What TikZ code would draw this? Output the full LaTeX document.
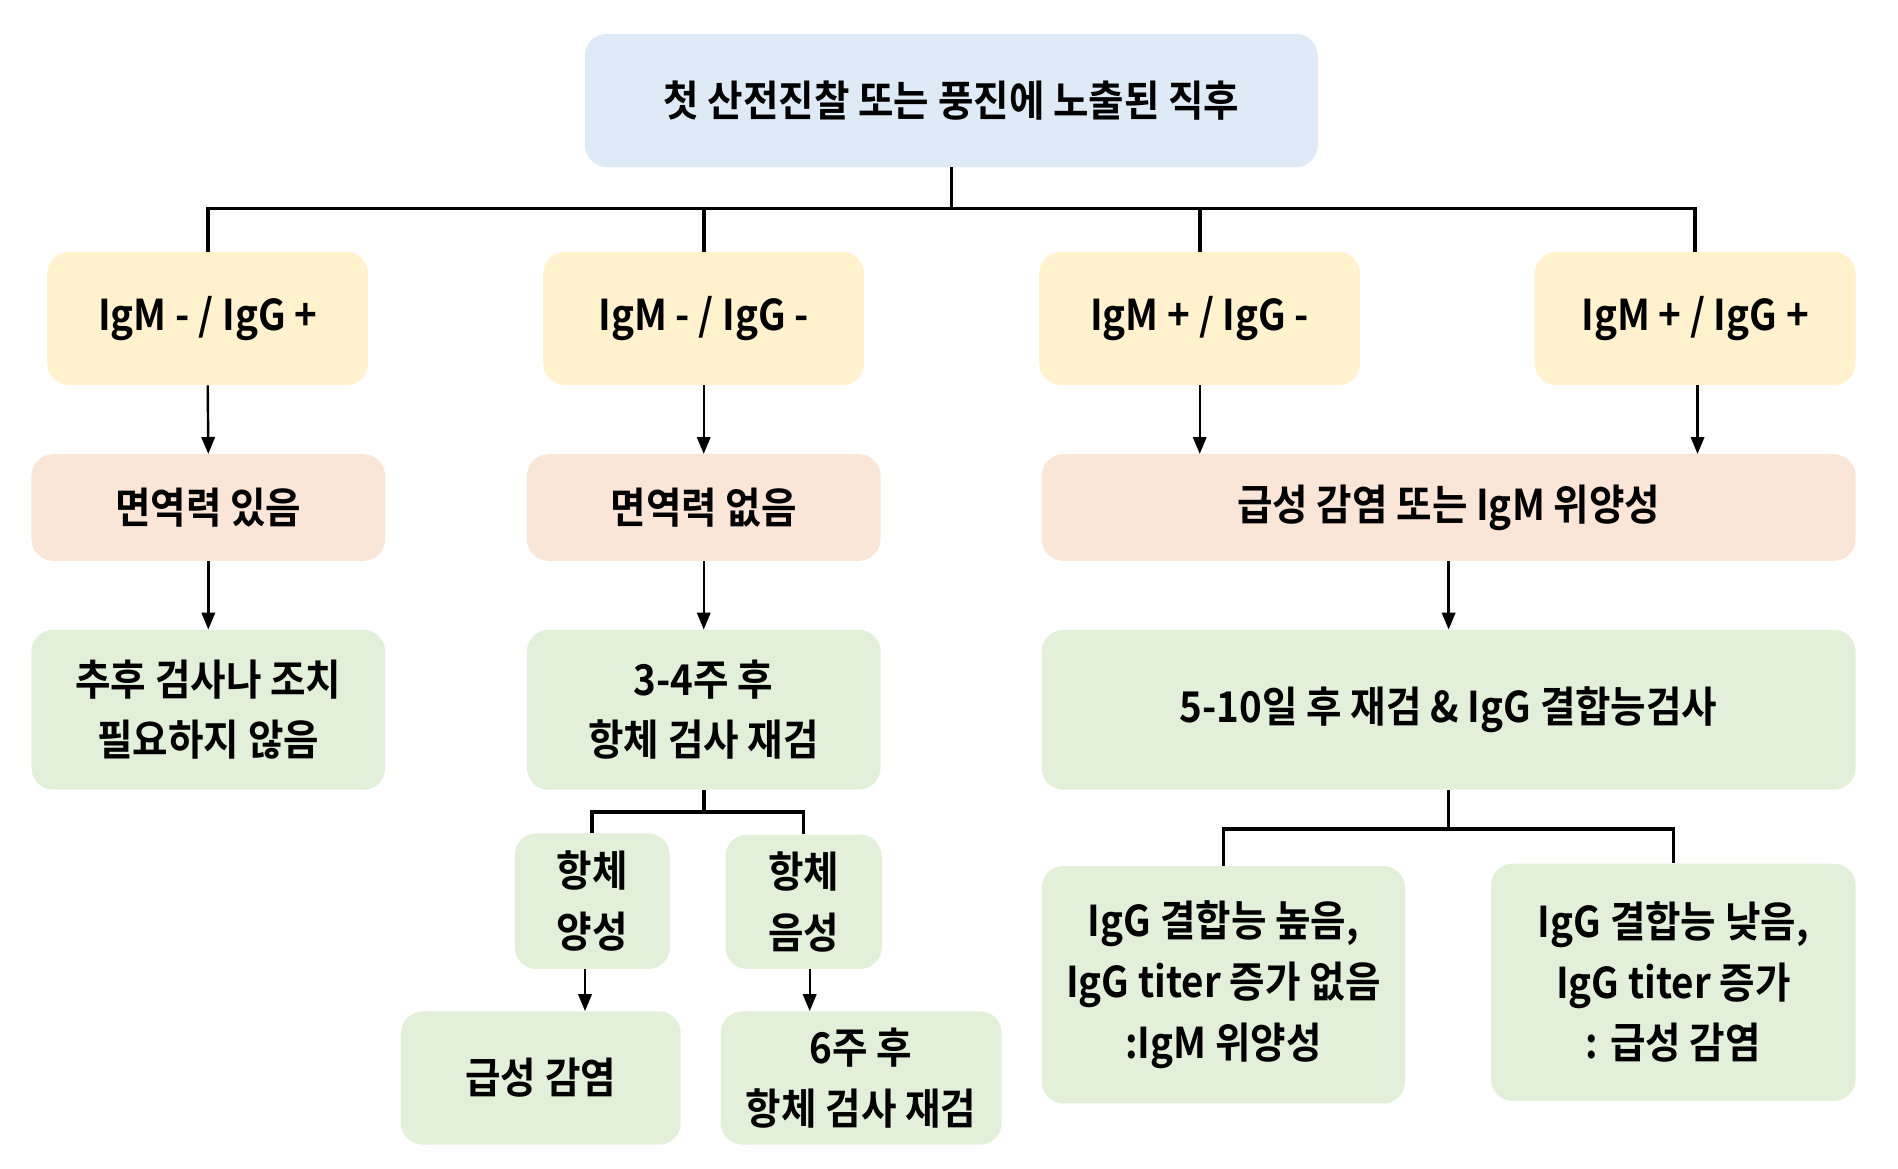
\documentclass[tikz,border=0pt]{standalone}
\usepackage{fontspec}
\newfontfamily\krfont{Noto Sans CJK KR Bold}[FakeStretch=0.91]
\usetikzlibrary{arrows.meta}
\definecolor{topblue}{HTML}{DEEBF7}
\definecolor{igyellow}{HTML}{FFF2CC}
\definecolor{respeach}{HTML}{FBE5D6}
\definecolor{stepgreen}{HTML}{E2F0D9}
\tikzset{
  box/.style={rounded corners=18pt, inner sep=0pt, align=center,
    font=\krfont\fontsize{35}{50}\selectfont},
  bus/.style={line width=3pt, line join=miter},
  arr/.style={line width=2pt, -{Triangle[length=14pt,width=11pt]}}
}
\begin{document}
\begin{tikzpicture}[x=1pt, y=-1pt]
	\useasboundingbox (0,0) rectangle (1567,965);
	% top
	\node[box, fill=topblue, minimum width=605, minimum height=110] (top) at (785.5,83) {첫 산전진찰 또는 풍진에 노출된 직후};
	% antibody results
	\node[box, fill=igyellow, minimum width=265, minimum height=110] (m1) at (171.5,263) {IgM - / IgG +};
	\node[box, fill=igyellow, minimum width=265, minimum height=110] (m2) at (581,263) {IgM - / IgG -};
	\node[box, fill=igyellow, minimum width=265, minimum height=110] (m3) at (990.5,263) {IgM + / IgG -};
	\node[box, fill=igyellow, minimum width=265, minimum height=110] (m4) at (1399.5,263) {IgM + / IgG +};
	\foreach \n in {m1,m2,m3,m4}
		\draw[bus] (top.south) -- ++(0,34) -| (\n.north);
	% meaning
	\node[box, fill=respeach, minimum width=292, minimum height=88] (immune) at (172,419) {면역력 있음};
	\node[box, fill=respeach, minimum width=292, minimum height=88] (noimmune) at (581,419) {면역력 없음};
	\node[box, fill=respeach, minimum width=672, minimum height=88] (acute) at (1196,419) {급성 감염 또는 IgM 위양성};
	\draw[arr] (m1.south) -- (immune.north);
	\draw[arr] (m2.south) -- (noimmune.north);
	\draw[arr] (m3.south) -- (m3.south |- acute.north);
	\draw[arr] ([xshift=2pt]m4.south) -- ([xshift=2pt]m4.south |- acute.north);
	% next step
	\node[box, fill=stepgreen, minimum width=292, minimum height=132] (nofollow) at (172,586) {추후 검사나 조치\\필요하지 않음};
	\node[box, fill=stepgreen, minimum width=292, minimum height=132] (retest) at (581,586) {3-4주 후\\항체 검사 재검};
	\node[box, fill=stepgreen, minimum width=672, minimum height=132] (avid) at (1196,586) {5-10일 후 재검 \& IgG 결합능검사};
	\draw[arr] (immune.south) -- (nofollow.north);
	\draw[arr] (noimmune.south) -- (retest.north);
	\draw[arr] (acute.south) -- (avid.north);
	% retest result
	\node[box, fill=stepgreen, minimum width=128, minimum height=112] (pos) at (489,744) {항체\\양성};
	\node[box, fill=stepgreen, minimum width=129, minimum height=111] (neg) at (663.5,744.5) {항체\\음성};
	\foreach \n in {pos,neg}
		\draw[bus] (retest.south) -- ++(0,18) -| (\n.north);
	\node[box, fill=stepgreen, minimum width=231, minimum height=110] (acute2) at (446.5,890) {급성 감염};
	\node[box, fill=stepgreen, minimum width=232, minimum height=110] (six) at (711,890) {6주 후\\항체 검사 재검};
	\draw[arr] ([xshift=-6pt]pos.south) -- ([xshift=-6pt]pos.south |- acute2.north);
	\draw[arr] ([xshift=5pt]neg.south) -- ([xshift=5pt]neg.south |- six.north);
	% avidity result
	\node[box, fill=stepgreen, minimum width=300, minimum height=196] (high) at (1010,813) {IgG 결합능 높음,\\IgG titer 증가 없음\\:IgM 위양성};
	\node[box, fill=stepgreen, minimum width=301, minimum height=196] (low) at (1381.5,811) {IgG 결합능 낮음,\\IgG titer 증가\\: 급성 감염};
	\foreach \n in {high,low}
		\draw[bus] (avid.south) -- ++(0,32) -| (\n.north);
\end{tikzpicture}
\end{document}
